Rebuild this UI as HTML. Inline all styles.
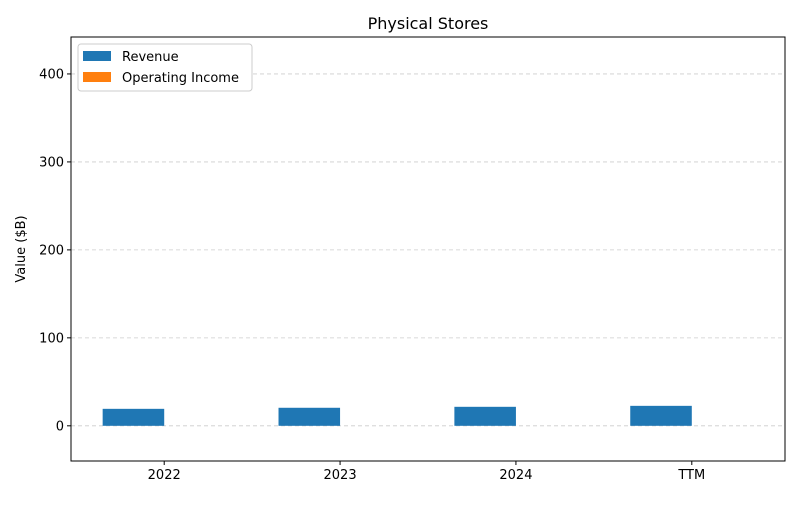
<!DOCTYPE html>
<html><head><meta charset="utf-8"><style>
body{margin:0;background:#fff;font-family:"Liberation Sans","DejaVu Sans",sans-serif;}
svg text{font-family:"DejaVu Sans","Liberation Sans",sans-serif;}
</style></head><body>
<svg id="chart" width="800" height="500" xmlns="http://www.w3.org/2000/svg">
<rect width="800" height="500" fill="#fff"/>
<text x="428" y="29" text-anchor="middle" font-size="16">Physical Stores</text>
<g id="grid"></g>
<g id="bars"></g>
<rect x="71" y="37" width="714" height="424" fill="none" stroke="#000" stroke-width="1"/>
<g id="axes"></g>
<text transform="translate(25,249) rotate(-90)" text-anchor="middle" font-size="13">Value ($B)</text>
<g>
<rect x="78" y="44" width="174" height="47" fill="#fff" stroke="#ccc" rx="3"/>
<g><rect x="83" y="51" width="28" height="10" fill="#1f77b4"/><text x="122" y="61" font-size="13">Revenue</text></g>
<g><rect x="83" y="72" width="28" height="10" fill="#ff7f0e"/><text x="122" y="82" font-size="13">Operating Income</text></g>
</g>
</svg>
<script>
const categories=["2022","2023","2024","TTM"];
const revenue=[19.3,20.5,21.6,22.7];
const operatingIncome=[0,0,0,0];
const yTicks=[0,100,200,300,400];
const NS="http://www.w3.org/2000/svg";
const X0=71,X1=785,Y0=461,Y1=37,xmin=-0.53,xmax=3.53,ymin=-40,ymax=442;
function xs(v){return X0+(v-xmin)/(xmax-xmin)*(X1-X0);}
function ys(v){return Y0-(v-ymin)/(ymax-ymin)*(Y0-Y1);}
function mk(t,a,p){const e=document.createElementNS(NS,t);for(const k in a)e.setAttribute(k,a[k]);p.appendChild(e);return e;}
const grid=document.getElementById('grid'),bars=document.getElementById('bars'),axes=document.getElementById('axes');
yTicks.forEach(t=>{const y=ys(t);
const g=mk('line',{x1:X0,x2:X1,y1:y,y2:y,stroke:'#ccc','stroke-dasharray':'4,3','stroke-width':0.8},grid);


const tk=mk('line',{x1:X0-4,x2:X0,y1:y,y2:y,stroke:'#000'},axes);


const tx=mk('text',{x:X0-7,y:y+4.5,'text-anchor':'end','font-size':13},axes);tx.textContent=t;

});
const w=0.35;
categories.forEach((c,i)=>{
[[revenue,'#1f77b4',-w/2,'bar-revenue'],[operatingIncome,'#ff7f0e',w/2,'bar-operating-income']].forEach(([arr,col,off,nm])=>{
const v=arr[i];const xl=xs(i+off-w/2),xr=xs(i+off+w/2);const ya=ys(Math.max(v,0)),yb=ys(Math.min(v,0));
const r=mk('rect',{x:xl,y:ya,width:xr-xl,height:Math.max(yb-ya,0),fill:col},bars);

});
const x=xs(i);
const tk=mk('line',{x1:x,x2:x,y1:Y0,y2:Y0+4,stroke:'#000'},axes);


const tx=mk('text',{x:x,y:Y0+18,'text-anchor':'middle','font-size':13},axes);tx.textContent=c;

});
</script>
</body></html>
